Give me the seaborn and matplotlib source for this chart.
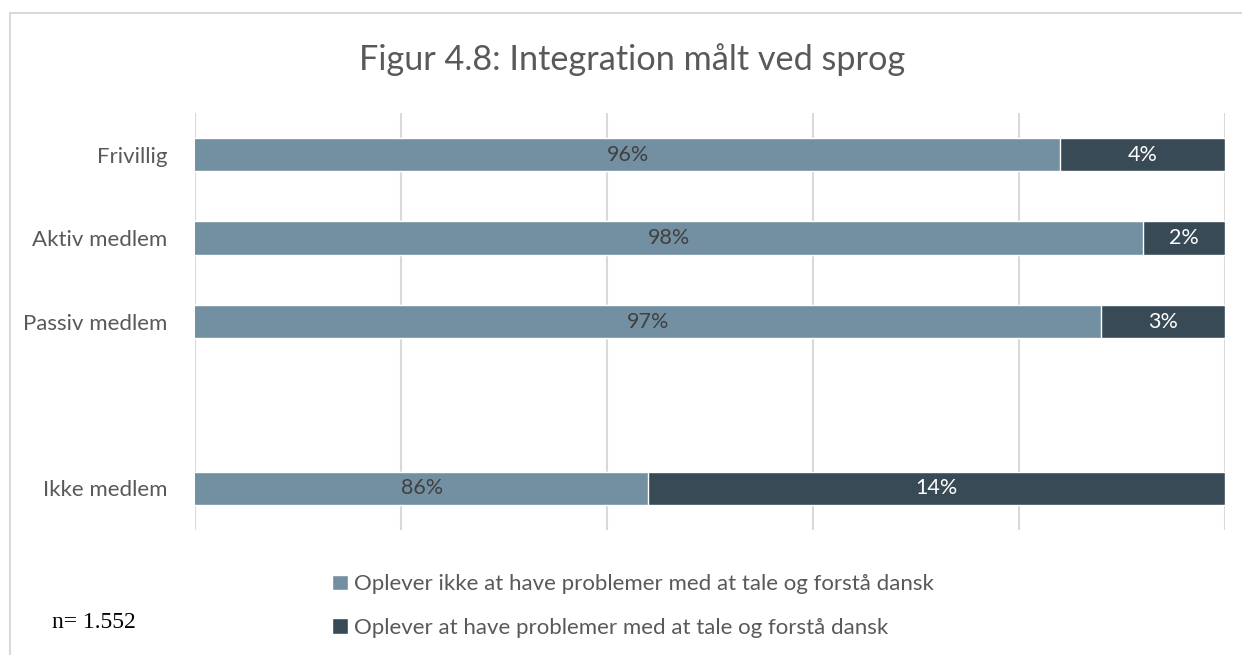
import pandas as pd
import numpy as np
import matplotlib.pyplot as plt
import seaborn as sns
from matplotlib.patches import Rectangle, Patch

# data
groups = ['Frivillig', 'Aktiv medlem', 'Passiv medlem', 'Ikke medlem']
order = ['Frivillig', 'Aktiv medlem', 'Passiv medlem', ' ', 'Ikke medlem']
no_problems = [96, 98, 97, 86]
problems = [4, 2, 3, 14]
legend_labels = ['Oplever ikke at have problemer med at tale og forstå dansk',
                 'Oplever at have problemer med at tale og forstå dansk']

light = '#7390a2'
dark = '#374a55'
grid = '#d9d9d9'

df = pd.DataFrame({'group': groups, 'ok': no_problems, 'prob': problems})
df['total'] = df['ok'] + df['prob']

sns.set_theme(style='white')
plt.rcParams['font.family'] = ['Lato', 'DejaVu Sans']

fig = plt.figure(figsize=(12.42, 6.55), dpi=100)
ax = fig.add_axes([195 / 1242, 1 - 530 / 655, 1030 / 1242, 417 / 655])

# stacked: dark total first, light on top
sns.barplot(data=df, x='total', y='group', order=order, color=dark,
            orient='h', width=0.4, ax=ax, saturation=1, errorbar=None)
sns.barplot(data=df, x='ok', y='group', order=order, color=light,
            orient='h', width=0.4, ax=ax, saturation=1, errorbar=None)

xmin = 75
ax.set_xlim(xmin, 100)
ax.set_ylim(4.5, -0.5)
ax.set_xticks(np.arange(75, 101, 5))
ax.xaxis.grid(True, color=grid, linewidth=1.5)
ax.set_axisbelow(True)
ax.tick_params(axis='x', labelbottom=False, length=0)
ax.tick_params(axis='y', length=0, labelsize=16, labelcolor='#595959', pad=20)
ax.set_xlabel('')
ax.set_ylabel('')
for s in ax.spines.values():
    s.set_visible(False)

# value labels
for _, r in df.iterrows():
    y = order.index(r['group'])
    ax.text((xmin + r['ok']) / 2, y, f"{r['ok']}%", ha='center', va='center',
            fontsize=15.5, color='#404040')
    ax.text(r['ok'] + r['prob'] / 2, y, f"{r['prob']}%", ha='center', va='center',
            fontsize=15.5, color='white')

fig.text(632 / 1242, 1 - 60 / 655, 'Figur 4.8: Integration målt ved sprog', ha='center', va='center',
         fontsize=24.7, color='#595959')

handles = [Patch(facecolor=light, label=legend_labels[0]),
           Patch(facecolor=dark, label=legend_labels[1])]
fig.legend(handles=handles, loc='center left', bbox_to_anchor=(312 / 1242, 1 - 606 / 655),
           ncol=1, frameon=False, fontsize=16, labelcolor='#595959',
           handlelength=0.7, handleheight=0.7, handletextpad=0.3, labelspacing=1.05)

fig.text(52 / 1242, 1 - 622 / 655, 'n= 1.552', ha='left', va='center',
         fontsize=17, family='Liberation Serif', color='black')

# chart border
fig.patches.append(Rectangle((10 / 1242, -0.05), 1.1, 1 - 13 / 655 + 0.05,
                             transform=fig.transFigure, fill=False,
                             edgecolor=grid, linewidth=1.5))

fig.savefig('out.png', dpi=100)
